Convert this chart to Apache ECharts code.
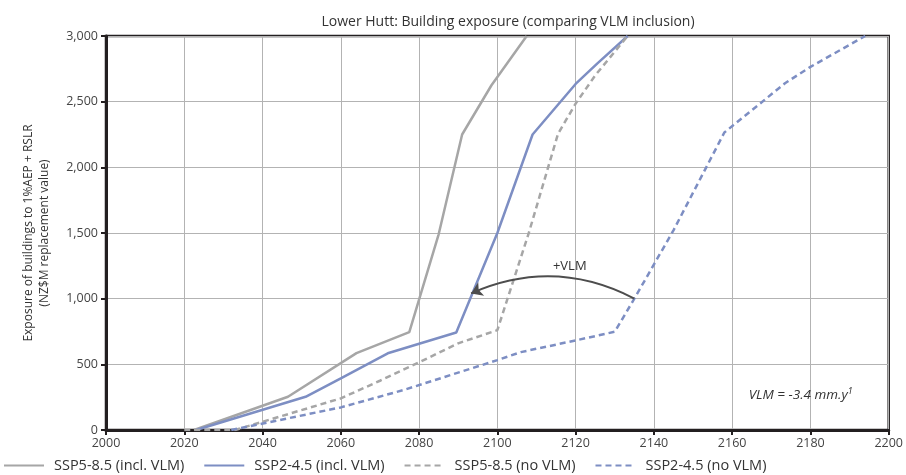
<!DOCTYPE html>
<html>
<head>
<meta charset="utf-8">
<script src="https://cdn.jsdelivr.net/npm/echarts@6/dist/echarts.min.js"></script>
<style>html,body{margin:0;padding:0;background:#fff}#c{width:906px;height:475px}</style>
</head>
<body>
<div id="c"></div>
<script>
const xTicks = [2000, 2200, 20];
const yTicks = [0, 3000, 500];

const ssp585InclYears  = [2022.5, 2046.5, 2064, 2077.5, 2085, 2091, 2098.5, 2107.5];
const ssp585InclValues = [0, 253, 585, 745, 1490, 2250, 2625, 3000];

const ssp245InclYears  = [2023, 2051, 2060, 2072, 2089.5, 2100, 2109, 2120, 2125.5, 2133.3];
const ssp245InclValues = [0, 253, 393, 584, 742, 1500, 2250, 2635, 2790, 3000];

const ssp585NoYears  = [2020, 2033, 2060, 2070, 2080, 2090, 2100, 2108, 2115.5, 2120, 2125, 2133.3];
const ssp585NoValues = [0, 0, 241, 375, 515, 660, 760, 1497, 2255, 2485, 2700, 3000];

const ssp245NoYears  = [2032, 2060, 2076, 2100, 2106, 2120, 2130, 2135, 2145, 2158, 2173.5, 2180, 2194];
const ssp245NoValues = [0, 172, 304, 532, 593, 682, 748, 1000, 1520, 2265, 2640, 2765, 3000];

const seriesNames = ['SSP5-8.5 (incl. VLM)', 'SSP2-4.5 (incl. VLM)', 'SSP5-8.5 (no VLM)', 'SSP2-4.5 (no VLM)'];

const arrowFrom = [2135, 1000];
const arrowTo = [2093.3, 1040];
const arrowLabelPos = [2118.5, 1245];
const vlmNotePos = [2177.5, 266];

function zip(xs, ys) { return xs.map((x, i) => [x, ys[i]]); }

const GRAY = '#a6a6a6';
const BLUE = '#7d8ec3';
const FONT = 'Open Sans';

const chart = echarts.init(document.getElementById('c'), null, {renderer: 'canvas'});

function lineSeries(name, data, color, dashed) {
  return {
    name: name,
    type: 'line',
    data: data,
    symbol: 'none',
    lineStyle: {color: color, width: 2.5, type: dashed ? [6, 4] : 'solid'},
    itemStyle: {color: color},
    z: 3,
    animation: false
  };
}

const s1 = lineSeries(seriesNames[0], zip(ssp585InclYears, ssp585InclValues), GRAY, false);
const s2 = lineSeries(seriesNames[1], zip(ssp245InclYears, ssp245InclValues), BLUE, false);
const s3 = lineSeries(seriesNames[2], zip(ssp585NoYears, ssp585NoValues), GRAY, true);
const s4 = lineSeries(seriesNames[3], zip(ssp245NoYears, ssp245NoValues), BLUE, true);

s4.markPoint = {
  silent: true,
  symbol: 'circle',
  symbolSize: 0,
  animation: false,
  data: [
    {coord: arrowLabelPos, label: {show: true, formatter: '+VLM', color: '#333', fontSize: 13, fontFamily: FONT, position: 'inside'}},
    {coord: vlmNotePos, label: {show: true, formatter: 'VLM = -3.4 mm.y{s|1}', color: '#333', fontSize: 13.5, fontStyle: 'italic', fontFamily: FONT, position: 'inside',
      rich: {s: {fontSize: 9, fontStyle: 'italic', fontFamily: FONT, color: '#333', verticalAlign: 'top', padding: [0, 0, 8, 0]}}}}
  ]
};

const arrowSeries = {
  type: 'lines',
  coordinateSystem: 'cartesian2d',
  silent: true,
  animation: false,
  z: 5,
  symbol: ['none', 'arrow'],
  symbolSize: 11,
  lineStyle: {color: '#4d4d4d', width: 2, curveness: -0.24, opacity: 1},
  data: [{coords: [arrowFrom, arrowTo]}]
};

chart.setOption({
  animation: false,
  backgroundColor: '#fff',
  textStyle: {fontFamily: FONT},
  title: {
    text: 'Lower Hutt: Building exposure (comparing VLM inclusion)',
    left: 503, top: 10, textAlign: 'center',
    textStyle: {fontSize: 14, fontWeight: 'normal', color: '#333', fontFamily: FONT}
  },
  legend: {
    data: seriesNames,
    left: 3, top: 458, padding: 0,
    itemWidth: 40, itemHeight: 12, itemGap: 19,
    itemStyle: {opacity: 0},
    textStyle: {fontSize: 14.5, color: '#333', fontFamily: FONT, padding: [0, 0, 0, 5]}
  },
  grid: {left: 106, right: 9, top: 36, bottom: 45, show: true, borderColor: '#231f20', borderWidth: 2.5, containLabel: false},
  xAxis: {
    type: 'value', min: xTicks[0], max: xTicks[1], interval: xTicks[2],
    axisLine: {show: true, onZero: false, lineStyle: {color: '#231f20', width: 3}},
    axisTick: {show: true, length: 5, lineStyle: {color: '#231f20', width: 2}},
    axisLabel: {color: '#444', fontSize: 12.5, margin: 7, fontFamily: FONT, formatter: v => String(v)},
    splitLine: {show: true, lineStyle: {color: '#b3b3b3', width: 1}}
  },
  yAxis: {
    type: 'value', min: yTicks[0], max: yTicks[1], interval: yTicks[2],
    name: 'Exposure of buildings to 1%AEP + RSLR\n(NZ$M replacement value)',
    nameLocation: 'middle', nameGap: 53,
    nameTextStyle: {fontSize: 12, color: '#333', lineHeight: 16, fontFamily: FONT},
    axisLine: {show: true, lineStyle: {color: '#231f20', width: 3}},
    axisTick: {show: true, length: 5, lineStyle: {color: '#231f20', width: 2}},
    axisLabel: {color: '#444', fontSize: 12.5, margin: 8, fontFamily: FONT,
      formatter: v => v.toLocaleString('en-US')},
    splitLine: {show: true, lineStyle: {color: '#b3b3b3', width: 1}}
  },
  series: [s1, s2, s3, s4, arrowSeries]
});
</script>
</body>
</html>
